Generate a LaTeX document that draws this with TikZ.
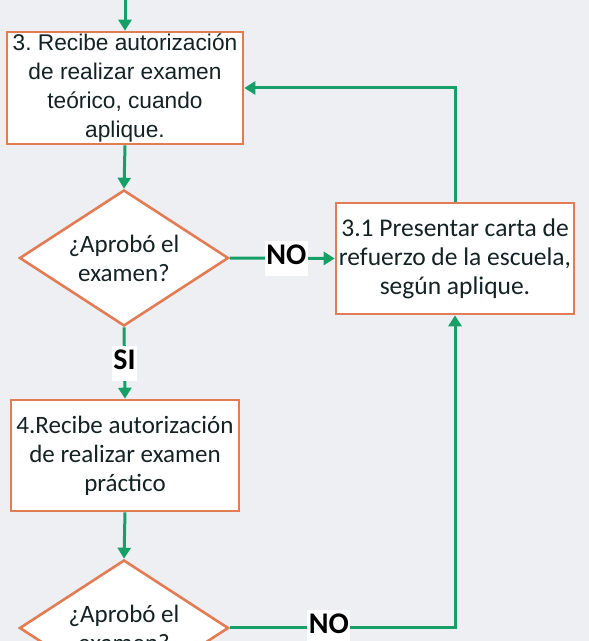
\documentclass[tikz,border=0pt]{standalone}
\usepackage{fontspec}
\setmainfont{Carlito}
\newfontfamily\arialf{Liberation Sans}
\usetikzlibrary{shapes.geometric,arrows.meta}
\definecolor{bgc}{HTML}{EEEFF3}
\definecolor{orng}{HTML}{E27C54}
\definecolor{grn}{HTML}{16A068}
\definecolor{txt}{HTML}{142224}
\frenchspacing
\tikzset{
  procbox/.style={draw=orng, line width=2.6pt, fill=white, align=center, inner sep=0pt, text=txt},
  decis/.style={diamond, draw=orng, line width=2.6pt, fill=white, align=center, inner sep=0pt, text=txt,
    minimum width=209pt, minimum height=136pt, aspect=1.54, font=\fontsize{25}{29}\selectfont},
  arr/.style={draw=grn, line width=3pt, -{Triangle[length=11pt,width=13pt]}},
  lab/.style={fill=white, text=black, font=\bfseries\fontsize{30}{30}\selectfont, inner xsep=1.5pt, inner ysep=2.5pt, text height=21pt, text depth=9pt}
}
\begin{document}
\begin{tikzpicture}[x=1pt,y=1pt]
\fill[bgc] (0,0) rectangle (589,641);
\useasboundingbox (0,0) rectangle (589,641);
\coordinate (top) at (125,641);
\node[procbox, minimum width=236pt, minimum height=112pt, font=\arialf\fontsize{22.7}{28.7}\selectfont] (b1) at (125,553) {3. Recibe autorización\\de realizar examen\\teórico, cuando\\aplique.};
\node[decis] (d1) at (124,383) {¿Aprobó el\\examen?};
\node[procbox, minimum width=238pt, minimum height=111pt, font=\fontsize{25.5}{29}\selectfont] (b31) at (455,382.5) {3.1 Presentar carta de\\refuerzo de la escuela,\\según aplique.};
\node[procbox, minimum width=228pt, minimum height=111pt, font=\fontsize{25}{29}\selectfont] (b4) at (125,185.5) {4.Recibe autorización\\de realizar examen\\práctico};
\node[decis] (d2) at (124,13) {¿Aprobó el\\examen?};
\draw[arr] (top) -- (b1.north);
\draw[arr] (b1.south) -- (d1.north);
\draw[arr] (d1.east) -- node[lab, pos=0.54]{NO} (b31.west);
\draw[arr] (b31.north) |- (b1.east);
\draw[arr] (d1.south) -- node[lab, pos=0.51]{SI} (b4.north);
\draw[arr] (b4.south) -- (d2.north);
\draw[arr] (d2.east) -- node[lab, pos=0.44]{NO} (d2.east -| b31) -- (b31.south);
\end{tikzpicture}
\end{document}
